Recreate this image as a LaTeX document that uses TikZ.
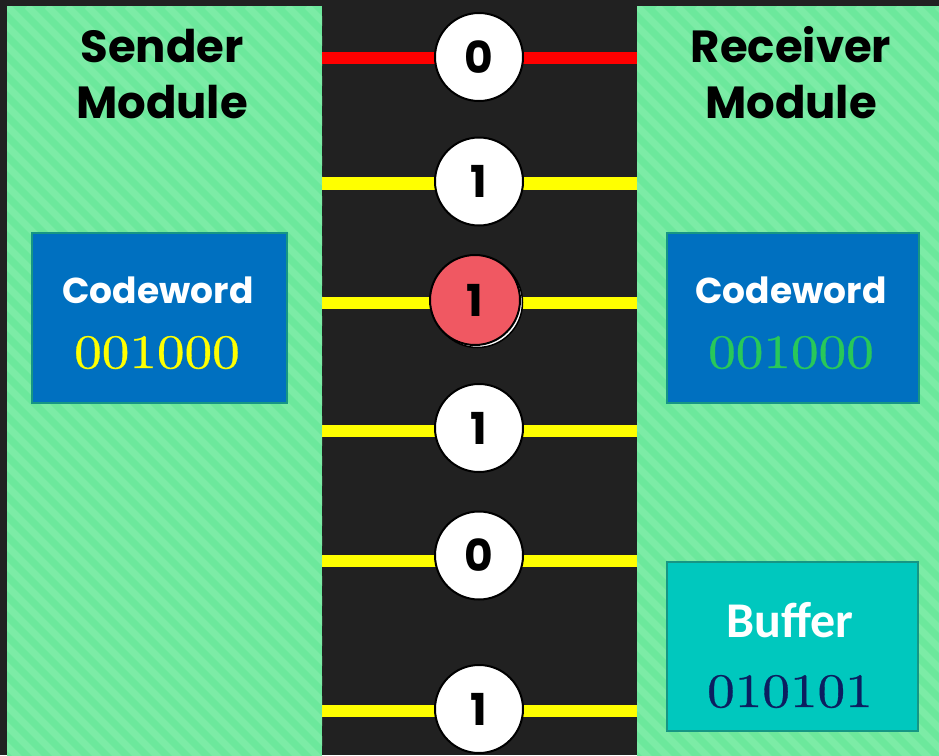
\documentclass[tikz,border=0pt]{standalone}
\usepackage{fontspec}
\newfontfamily\popfont{Poppins}
\newfontfamily\carlfont{Carlito}
\newfontfamily\digfont{lmroman10-regular.otf}[FakeStretch=1.15,FakeBold=0.6]
\definecolor{bgdark}{RGB}{33,33,33}
\definecolor{panelgreen}{RGB}{108,232,156}
\definecolor{panelstripe}{RGB}{124,236,166}
\definecolor{boxedge}{RGB}{22,150,132}
\definecolor{cwblue}{RGB}{0,112,192}
\definecolor{bufteal}{RGB}{0,200,190}
\definecolor{bitred}{RGB}{240,88,98}
\definecolor{wirered}{RGB}{255,0,0}
\definecolor{wireyellow}{RGB}{255,255,0}
\definecolor{okgreen}{RGB}{40,200,90}
\definecolor{navy}{RGB}{12,30,96}
\tikzset{
  panel/.style={rectangle, inner sep=0pt, fill=panelgreen, anchor=north west,
    path picture={
      \coordinate (pnw) at (path picture bounding box.north west);
      \foreach \k in {-40,...,20}{
        \draw[panelstripe, line width=7pt]
          ([shift={(\k*20,0)}]pnw) -- ++(800,800);
      }}},
  title/.style={anchor=base, font=\popfont\bfseries\fontsize{45}{54}\selectfont, text=black, inner sep=0pt},
  infobox/.style={rectangle, draw=boxedge, line width=2pt, inner sep=0pt},
  boxhead/.style={anchor=base, font=\popfont\bfseries\fontsize{36}{44}\selectfont, text=white, inner sep=0pt},
  bufhead/.style={anchor=base, font=\carlfont\bfseries\fontsize{50}{60}\selectfont, text=white, inner sep=0pt},
  bits/.style={anchor=base, font=\digfont\fontsize{48}{58}\selectfont, inner sep=0pt},
  wire/.style={line width=12.5pt},
  bit/.style={circle, draw=black, line width=2pt, fill=white, minimum size=88pt, inner sep=0pt,
    font=\popfont\bfseries\fontsize{44}{50}\selectfont, text=black},
}
\begin{document}
\begin{tikzpicture}[x=1pt,y=-1pt]
  \useasboundingbox (0,0) rectangle (939,755);
  \fill[bgdark] (0,0) rectangle (939,755);

  % the two module panels
  \node[panel, minimum width=315pt, minimum height=760pt] (sender) at (7,6) {};
  \node[panel, minimum width=310pt, minimum height=760pt] (receiver) at (637,6) {};

  % panel titles
  \node[title] (st1) at (162,62) {Sender};
  \node[title] (st2) at (162,118) {Module};
  \node[title] (rt1) at (791,62) {Receiver};
  \node[title] (rt2) at (791,118) {Module};

  % sender codeword
  \node[infobox, fill=cwblue, minimum width=255pt, minimum height=170pt] (scw) at (159.5,318) {};
  \node[boxhead] (scwh) at (158,303) {Codeword};
  \node[bits, text=wireyellow] (scwb) at (157,368) {001000};

  % receiver codeword
  \node[infobox, fill=cwblue, minimum width=252pt, minimum height=170pt] (rcw) at (792.5,318) {};
  \node[boxhead] (rcwh) at (791,303) {Codeword};
  \node[bits, text=okgreen] (rcwb) at (791,368) {001000};

  % receiver buffer
  \node[infobox, fill=bufteal, minimum width=251pt, minimum height=169pt] (buf) at (792.5,646.5) {};
  \node[bufhead] (bufh) at (790,637) {Buffer};
  \node[bits, text=navy] (bufb) at (790,707) {010101};

  % wire levels
  \coordinate (w1) at (479,58);
  \coordinate (w2) at (479,183.5);
  \coordinate (w3) at (479,303);
  \coordinate (w4) at (479,431);
  \coordinate (w5) at (479,561);
  \coordinate (w6) at (479,711);

  \draw[wire, wirered]    (sender.east |- w1) -- (receiver.west |- w1);
  \draw[wire, wireyellow] (sender.east |- w2) -- (receiver.west |- w2);
  \draw[wire, wireyellow] (sender.east |- w3) -- (receiver.west |- w3);
  \draw[wire, wireyellow] (sender.east |- w4) -- (receiver.west |- w4);
  \draw[wire, wireyellow] (sender.east |- w5) -- (receiver.west |- w5);
  \draw[wire, wireyellow] (sender.east |- w6) -- (receiver.west |- w6);

  % bits on the wires
  \node[bit] (b1) at (479,57) {0};
  \node[bit] (b2) at (479,181.5) {1};
  \node[bit, minimum size=90pt, line width=1.5pt] (b3s) at (477.5,302.5) {};
  \node[bit, minimum size=90pt, fill=bitred] (b3) at (475,300) {1};
  \node[bit] (b4) at (479,428) {1};
  \node[bit] (b5) at (479,555.5) {0};
  \node[bit] (b6) at (479,709) {1};
\end{tikzpicture}
\end{document}
